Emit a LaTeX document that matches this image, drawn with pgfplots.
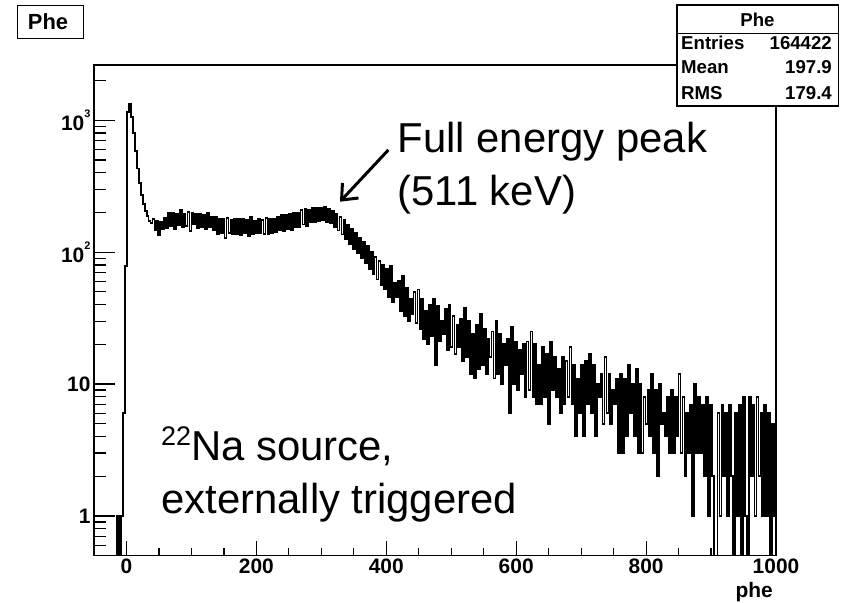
\documentclass[border=0pt]{standalone}
\usepackage{pgfplots}
\pgfplotsset{compat=1.18}
\usetikzlibrary{arrows.meta}
\usepackage{fontspec}
\setmainfont{Liberation Sans}
\newcommand{\supnum}[1]{{\fontsize{11}{11}\selectfont\raisebox{13bp}{#1}}}
\begin{document}
\begin{tikzpicture}
\useasboundingbox (0,0) rectangle (844bp,603bp);
\begin{axis}[
  at={(94bp,47.3bp)}, anchor=south west,
  scale only axis, width=682bp, height=490.7bp,
  xmin=-50, xmax=1000, ymode=log, ymin=0.5, ymax=2620,
  axis line style={line width=1.3bp},
  tick align=inside, tick pos=left,
  xtick={0,200,400,600,800,1000},
  minor xtick={-50,50,100,150,250,300,350,450,500,550,650,700,750,850,900,950},
  ytick={1,10,100,1000},
  yticklabels={1,10,10\supnum{2},10\supnum{3}},
  minor ytick={0.6,0.7,0.8,0.9,2,3,4,5,6,7,8,9,20,30,40,50,60,70,80,90,200,300,400,500,600,700,800,900,2000},
  tick style={line width=1.2bp, black},
  xtick style={/pgfplots/major tick length=15bp,/pgfplots/minor tick length=8bp},
  ytick style={/pgfplots/major tick length=21bp,/pgfplots/minor tick length=12bp},
  ticklabel style={font=\fontsize{21}{21}\selectfont\bfseries},
  /pgf/number format/assume math mode=true,
  /pgf/number format/1000 sep={},
]
\addplot[const plot mark left, black, line width=1.8bp] coordinates {
(-50,0.4) (-14,1) (-11,0.4) (-8,1) (-5,6) (-2,78) (1,1150) (4,1340) (7,1060) (10,800) (13,580) (16,430) (19,335) (22,272) (25,232) (28,205) (31,188) (34,172) (37,166)
(40,178) (43,146) (46,172) (49,134) (52,168) (55,150) (58,182) (61,152) (64,198) (67,158) (70,200) (73,150) (76,196) (79,160) (82,210) (85,154) (88,194) (91,158) (94,202) (97,144)
(100,198) (103,162) (106,196) (109,152) (112,196) (115,156) (118,192) (121,150) (124,200) (127,156) (130,186) (133,148) (136,184) (139,138) (142,180) (145,140) (148,178) (151,128) (154,182) (157,140)
(160,176) (163,136) (166,178) (169,138) (172,178) (175,134) (178,180) (181,140) (184,174) (187,132) (190,186) (193,136) (196,172) (199,140) (202,180) (205,140) (208,176) (211,138) (214,182) (217,136)
(220,180) (223,140) (226,178) (229,142) (232,184) (235,146) (238,190) (241,144) (244,192) (247,150) (250,196) (253,148) (256,198) (259,154) (262,198) (265,156) (268,208) (271,162) (274,214) (277,158)
(280,210) (283,170) (286,218) (289,168) (292,216) (295,172) (298,216) (301,176) (304,220) (307,170) (310,212) (313,166) (316,204) (319,156) (322,196) (325,146) (328,184) (331,136) (334,174) (337,126)
(340,162) (343,116) (346,150) (349,106) (352,140) (355,98) (358,128) (361,90) (364,120) (367,82) (370,112) (373,74) (376,100) (379,68) (382,92) (385,62) (388,86) (391,56) (394,80) (397,52)
(400,74) (403,46) (406,78) (409,42) (412,58) (415,46) (418,60) (421,36) (424,66) (427,33) (430,54) (433,30) (436,44) (439,34) (442,50) (445,29) (448,52) (451,26) (454,44) (457,22)
(460,36) (463,20) (466,40) (469,23) (472,44) (475,14) (478,39) (481,21) (484,30) (487,24) (490,37) (493,18) (496,40) (499,19) (502,33) (505,17) (508,28) (511,19) (514,31) (517,15)
(520,38) (523,16) (526,30) (529,12) (532,24) (535,11) (538,28) (541,13) (544,34) (547,14) (550,26) (553,12) (556,22) (559,16) (562,25) (565,11) (568,30) (571,12) (574,24) (577,10)
(580,20) (583,14) (586,22) (589,6) (592,27) (595,10) (598,21) (601,9) (604,18) (607,12) (610,20) (613,8) (616,21) (619,9) (622,25) (625,8) (628,20) (631,7) (634,14) (637,7)
(640,19) (643,8) (646,17) (649,5) (652,21) (655,9) (658,16) (661,8) (664,13) (667,6) (670,16) (673,7) (676,15) (679,8) (682,19) (685,7) (688,14) (691,4) (694,11) (697,6)
(700,14) (703,4) (706,15) (709,7) (712,17) (715,6) (718,14) (721,4) (724,10) (727,8) (730,12) (733,5) (736,16) (739,6) (742,12) (745,5) (748,9) (751,7) (754,11) (757,3)
(760,12) (763,3) (766,11) (769,4) (772,14) (775,6) (778,10) (781,4) (784,13) (787,3) (790,10) (793,3) (796,8) (799,5) (802,9) (805,4) (808,12) (811,3) (814,9) (817,2)
(820,10) (823,5) (826,6) (829,4) (832,8) (835,3) (838,9) (841,3) (844,8) (847,4) (850,12) (853,3) (856,8) (859,2) (862,6) (865,3) (868,7) (871,1) (874,10) (877,3)
(880,8) (883,3) (886,7) (889,2) (892,8) (895,1) (898,7) (901,2) (904,0.4) (907,0.4) (910,6) (913,1) (916,7) (919,2) (922,6) (925,1) (928,7) (931,2) (934,0.4) (937,6)
(940,1) (943,7) (946,0.4) (949,8) (952,1) (955,0.4) (958,8) (961,2) (964,7) (967,1) (970,8) (973,2) (976,6) (979,1) (982,7) (985,1) (988,6) (991,0.4) (994,5) (997,1) (1000,1)
};
\end{axis}
% x label
\node[anchor=base east, inner sep=0pt, font=\fontsize{21}{21}\selectfont\bfseries] at (773bp,6bp) {phe};
% title box
\draw[line width=1.4bp] (17.3bp,597.3bp) rectangle (83.3bp,564.7bp);
\node[anchor=base west, inner sep=0pt, font=\fontsize{22}{22}\selectfont\bfseries] at (27.7bp,573bp) {Phe};
% stats box
\draw[line width=1.3bp, fill=white] (677bp,598bp) rectangle (838.3bp,497bp);
\draw[line width=1.1bp] (677bp,569.7bp) -- (838.3bp,569.7bp);
\begin{scope}[every node/.style={inner sep=0pt, font=\fontsize{18.7}{18.7}\selectfont\bfseries}]
\node[anchor=base] at (757.5bp,576.3bp) {Phe};
\node[anchor=base west] at (681bp,553.7bp) {Entries};
\node[anchor=base east] at (832bp,553.7bp) {164422};
\node[anchor=base west] at (681bp,529bp) {Mean};
\node[anchor=base east] at (832bp,529bp) {197.9};
\node[anchor=base west] at (681bp,503.7bp) {RMS};
\node[anchor=base east] at (832bp,503.7bp) {179.4};
\end{scope}
% annotations
\begin{scope}[every node/.style={inner sep=0pt, font=\fontsize{42}{50}\selectfont}]
\node[anchor=base west] at (397.5bp,450.3bp) {Full energy peak};
\node[anchor=base west] at (397.5bp,397bp) {(511 keV)};
\node[anchor=base west] at (161bp,142.5bp) {{\fontsize{27}{27}\selectfont\raisebox{15bp}{22}}Na source,};
\node[anchor=base west] at (161bp,89bp) {externally triggered};
\end{scope}
\draw[line width=3bp, -{Straight Barb[length=13bp,width=22bp]}] (388.3bp,453bp) -- (340bp,401.3bp);
\end{tikzpicture}
\end{document}
